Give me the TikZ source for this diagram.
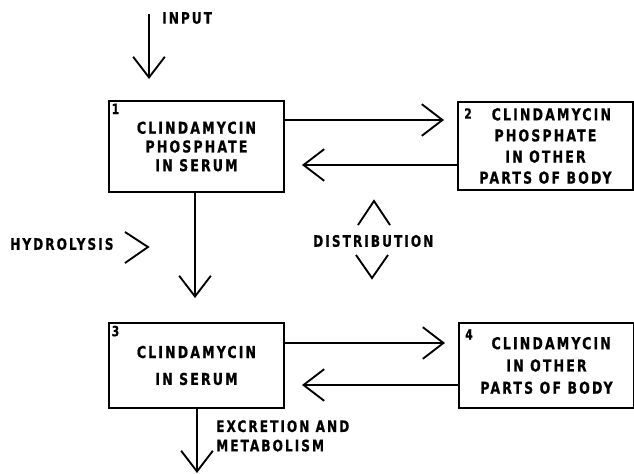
\documentclass[tikz,border=0pt]{standalone}
\usepackage{fontspec}
\setmainfont{DejaVu Sans Condensed}[FakeStretch=0.85, LetterSpace=13,
  BoldFeatures={FakeBold=0.6}]
\usetikzlibrary{arrows.meta, positioning, calc}

\tikzset{
  compartment/.style={draw, line width=1.7pt, align=center, inner sep=0pt,
    minimum width=5.25cm, font=\fontsize{14}{17}\selectfont\bfseries},
  boxno/.style={anchor=north west, inner sep=3pt, font=\fontsize{12}{12}\selectfont\bfseries},
  flow/.style={line width=1.6pt, -{Straight Barb[length=0.62cm, width=0.95cm, line width=1.6pt]}},
  chevron/.style={line width=1.6pt},
  note/.style={font=\fontsize{13.5}{16.5}\selectfont\bfseries, inner sep=0pt, align=left}
}

\begin{document}
\begin{tikzpicture}[x=0.03cm, y=-0.03cm]
  \useasboundingbox (0,0) rectangle (634,474);

  % compartments
  \node[compartment, minimum height=2.73cm,
        font=\fontsize{14}{16}\selectfont\bfseries,
        label={[boxno]north west:1}] (serumP) at (196.5,146.5)
        {CLINDAMYCIN\\PHOSPHATE\\IN SERUM};
  \node[compartment, minimum height=2.64cm,
        font=\fontsize{14}{18}\selectfont\bfseries,
        label={[boxno, yshift=-3pt, xshift=3pt]north west:2}] (bodyP) at (545.5,146)
        {\hspace*{10pt}CLINDAMYCIN\\PHOSPHATE\\IN OTHER\\PARTS OF BODY};
  \node[compartment, minimum height=2.55cm,
        font=\fontsize{14}{23}\selectfont\bfseries,
        label={[boxno]north west:3}] (serum) at (196.5,365.5)
        {CLINDAMYCIN\\IN SERUM};
  \node[compartment, minimum height=2.55cm,
        font=\fontsize{14}{19}\selectfont\bfseries,
        label={[boxno, yshift=-3pt, xshift=3pt]north west:4}] (body) at (546.5,365.5)
        {\hspace*{8pt}CLINDAMYCIN\\IN OTHER\\PARTS OF BODY};

  % input
  \coordinate (inTop) at (149,14);
  \draw[flow, shorten >=21*0.03cm] (inTop) -- (inTop |- serumP.north);
  \node[note, anchor=west] (input) at (162,18) {INPUT};

  % distribution, phosphate
  \draw[flow, shorten >=13*0.03cm] (serumP.east |- 0,120) -- (bodyP.west |- 0,120);
  \draw[flow, shorten >=17*0.03cm] (bodyP.west |- 0,165) -- (serumP.east |- 0,165);

  % hydrolysis
  \draw[flow, shorten >=24*0.03cm] (serumP.south -| 195,0) -- (serum.north -| 195,0);
  \node[note, anchor=west] (hydro) at (10,244) {HYDROLYSIS};
  \draw[chevron] (125,232) -- (148,247) -- (125,263);

  % distribution
  \node[note, anchor=west] (distr) at (313,241) {DISTRIBUTION};
  \draw[chevron] (358,225) -- (374,201) -- (390,225);
  \draw[chevron] (356,255) -- (372,278) -- (388,255);

  % distribution, clindamycin
  \draw[flow, shorten >=13*0.03cm] (serum.east |- 0,343) -- (body.west |- 0,343);
  \draw[flow, shorten >=17*0.03cm] (body.west |- 0,385) -- (serum.east |- 0,385);

  % excretion
  \coordinate (outEnd) at (197,473);
  \draw[flow] (serum.south -| outEnd) -- (outEnd);
  \node[note, anchor=north west] (excr) at (216,420) {EXCRETION AND\\METABOLISM};
\end{tikzpicture}
\end{document}
